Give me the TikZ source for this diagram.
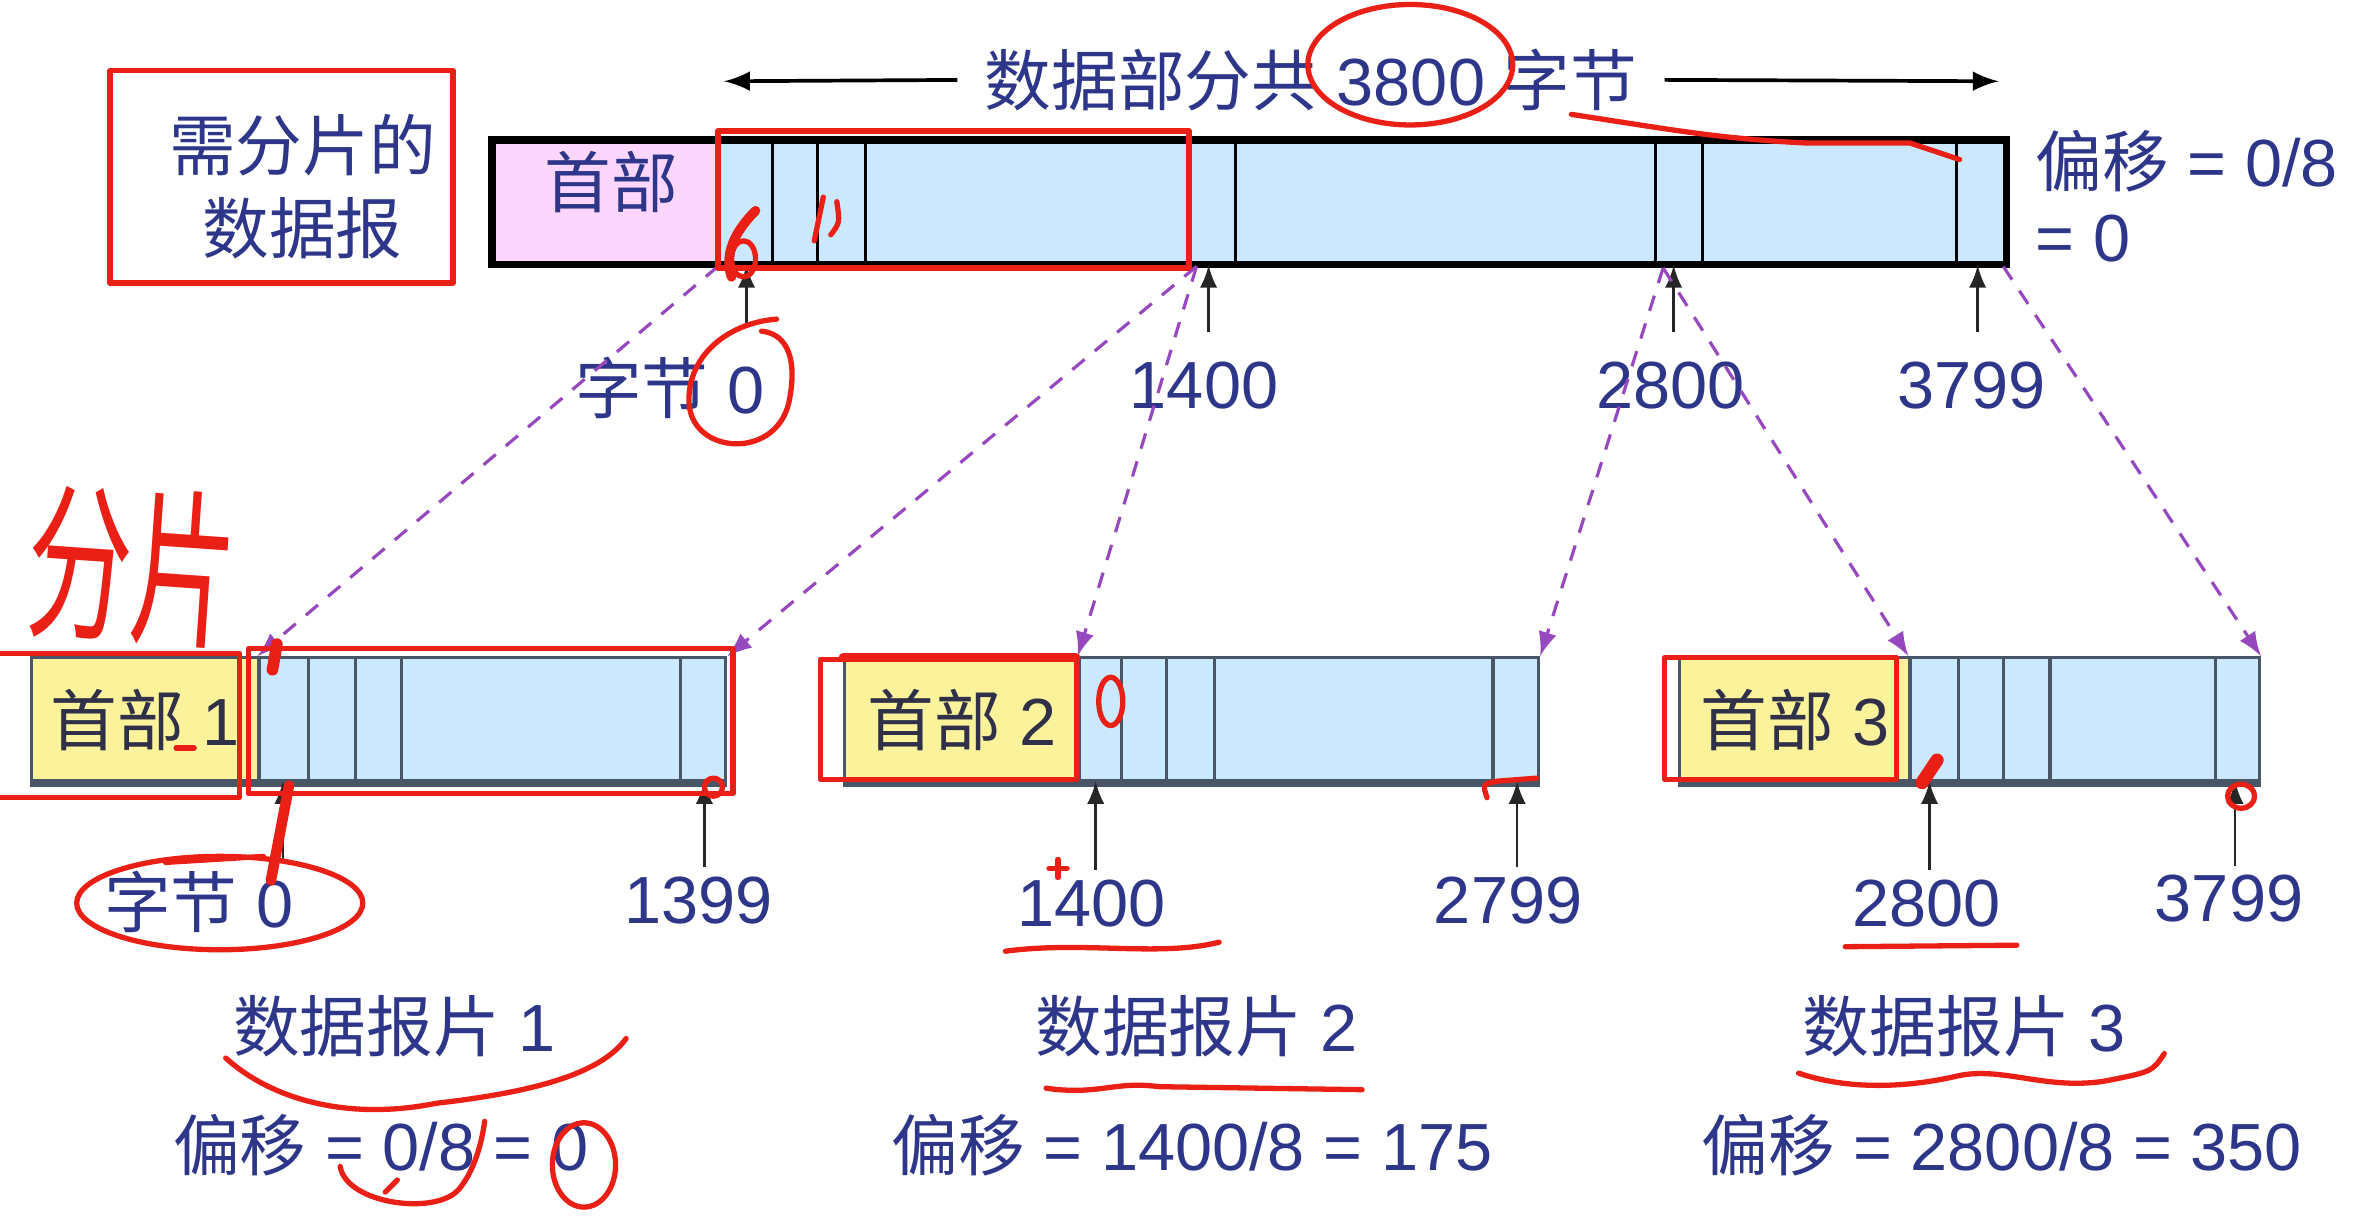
\documentclass[tikz,border=0pt]{standalone}
\usepackage{fontspec}
\setmainfont{Liberation Sans}
\newfontfamily\cjk{Noto Sans CJK SC}
\usepackage{tikz}
\usetikzlibrary{arrows}
\definecolor{txtblue}{RGB}{46,54,138}
\definecolor{hdrtext}{RGB}{48,48,72}
\definecolor{hdrpink}{RGB}{252,214,252}
\definecolor{databl}{RGB}{204,232,252}
\definecolor{hdryel}{RGB}{251,243,156}
\definecolor{fragline}{RGB}{72,86,102}
\definecolor{dpurple}{RGB}{150,72,190}
\definecolor{pen}{RGB}{234,32,22}
\newcommand{\sz}{\fontsize{12.6}{15.6}\selectfont}

\begin{document}
\begin{tikzpicture}[x=0.01cm,y=-0.01cm,
  lbl/.style={text=txtblue,inner sep=0pt,font=\sz},
  cn/.style={lbl,font=\cjk\sz},
  hdrbox/.style={draw=black,line width=0.5pt,anchor=north west,inner sep=0pt,minimum height=0.81cm},
  fragbox/.style={draw=fragline,line width=0.6pt,anchor=north west,inner sep=0pt,minimum height=0.82cm,text=hdrtext,font=\sz},
  cell/.style={black,line width=0.6pt},
  fcell/.style={fragline,line width=0.6pt},
  fshade/.style={fragline,line width=1.6pt},
  tick/.style={-latex,black!85,line width=0.5pt,shorten <=5.5pt},
  ftick/.style={-latex,black!85,line width=0.5pt,shorten <=1.5pt},
  dimarr/.style={-latex,black,line width=0.7pt,shorten <=5pt},
  dline/.style={-latex,dpurple,line width=0.6pt,dash pattern=on 3pt off 2.5pt},
  pen/.style={draw=pen,line width=1pt,line cap=round,line join=round}]
\useasboundingbox (0,0) rectangle (1568,809);

\node[lbl] (dimtxt) at (871,53) {{\cjk 数据部分共} 3800 {\cjk 字节}};
\coordinate (diml) at (481,54);
\coordinate (dimr) at (1328,54);
\draw[dimarr] (dimtxt.west) -- (diml);
\draw[dimarr] (dimtxt.east) -- (dimr);

\node[cn,align=center] (title) at (201,124) {需分片的\\数据报};

\node[hdrbox,fill=hdrpink,minimum width=1.5cm] (h0) at (327,93) {};
\node[hdrbox,fill=databl,minimum width=8.54cm] (d0) at (477,93) {};
\node[cn] (h0txt) at (406,121) {首部};
\foreach \x in {513,543,575,821,1100,1131,1300}
  \draw[cell] (\x,93) -- (\x,174);
\draw[line width=1.4pt] (h0.north west) rectangle (d0.south east);

\node[lbl,anchor=north west,align=left,font=\fontsize{12.6}{14.2}\selectfont] (off0) at (1352,86) {{\cjk 偏移} = 0/8\\= 0};

\coordinate (t0) at (496,176);
\coordinate (t1400) at (803,176);
\coordinate (t2800) at (1112,176);
\coordinate (t3799) at (1314,176);
\node[lbl] (l0) at (445,258) {{\cjk 字节} 0};
\node[lbl] (l1400) at (800,256) {1400};
\node[lbl] (l2800) at (1110,256) {2800};
\node[lbl] (l3799) at (1310,256) {3799};
\draw[tick] (t0 |- l0.north) -- (t0);
\draw[tick] (t1400 |- l1400.north) -- (t1400);
\draw[tick] (t2800 |- l2800.north) -- (t2800);
\draw[tick] (t3799 |- l3799.north) -- (t3799);

\node[fragbox,fill=hdryel,minimum width=1.51cm] (fh1) at (20,436) {{\cjk 首部} 1};
\node[fragbox,fill=databl,minimum width=3.10cm] (fd1) at (171,436) {};
\node[fragbox,fill=hdryel,minimum width=1.56cm] (fh2) at (560,436) {{\cjk 首部} 2};
\node[fragbox,fill=databl,minimum width=3.05cm] (fd2) at (716,436) {};
\node[fragbox,fill=hdryel,minimum width=1.53cm] (fh3) at (1115,436) {{\cjk 首部} 3};
\node[fragbox,fill=databl,minimum width=2.32cm] (fd3) at (1268,436) {};
\foreach \x in {205,236,267,452,745,775,807,992,1301,1331,1362,1472}
  \draw[fcell] (\x,436) -- (\x,518);
\draw[fshade] (fh1.south west) -- (fd1.south east);
\draw[fshade] (fh2.south west) -- (fd2.south east);
\draw[fshade] (fh3.south west) -- (fd3.south east);

\coordinate (s0) at (477,177);
\coordinate (s1400) at (795,177);
\coordinate (s2800) at (1105,178);
\coordinate (s3800) at (1331,177);
\draw[dline] (s0) -- (fd1.north west);
\draw[dline] (s1400) -- (fd1.north east);
\draw[dline] (s1400) -- (fd2.north west);
\draw[dline] (s2800) -- (fd2.north east);
\draw[dline] (s2800) -- (fd3.north west);
\draw[dline] (s3800) -- (fd3.north east);

\coordinate (b0) at (188,519);
\coordinate (b1399) at (468,519);
\coordinate (b1400) at (728,519);
\coordinate (b2799) at (1008,519);
\coordinate (b2800) at (1282,519);
\coordinate (b3799) at (1485,519);
\node[lbl] (fl0) at (132,599) {{\cjk 字节} 0};
\node[lbl] (fl1399) at (464,598) {1399};
\node[lbl] (fl1400) at (725,600) {1400};
\node[lbl] (fl2799) at (1002,598) {2799};
\node[lbl] (fl2800) at (1280,600) {2800};
\node[lbl] (fl3799) at (1481,597) {3799};
\draw[ftick] (b0 |- fl0.north) -- (b0);
\draw[ftick] (b1399 |- fl1399.north) -- (b1399);
\draw[ftick] (b1400 |- fl1400.north) -- (b1400);
\draw[ftick] (b2799 |- fl2799.north) -- (b2799);
\draw[ftick] (b2800 |- fl2800.north) -- (b2800);
\draw[ftick] (b3799 |- fl3799.north) -- (b3799);

\node[lbl] (name1) at (262,682) {{\cjk 数据报片} 1};
\node[lbl] (name2) at (795,682) {{\cjk 数据报片} 2};
\node[lbl] (name3) at (1305,682) {{\cjk 数据报片} 3};
\node[lbl] (off1) at (253,761) {{\cjk 偏移} = 0/8 = 0};
\node[lbl] (off2) at (792,761) {{\cjk 偏移} = 1400/8 = 175};
\node[lbl] (off3) at (1330,761) {{\cjk 偏移} = 2800/8 = 350};

\draw[pen] (73,47) rectangle (301,188);
\draw[pen] (477,87) rectangle (790,178);
\draw[pen] (-3,434) rectangle (159,530);
\draw[pen] (165,431) rectangle (487,527);
\draw[pen] (545,438) rectangle (715,518);
\draw[pen,line width=1.6pt] (560,437) -- (715,437);
\draw[pen] (1106,437) rectangle (1260,518);
\draw[pen] (937,43) ellipse [x radius=0.68cm,y radius=0.40cm];
\draw[pen] (1044,76) .. controls (1110,86) and (1140,92) .. (1200,95) -- (1269,95) -- (1302,106);
\draw[pen] (516,212) .. controls (480,215) and (455,240) .. (458,270) .. controls (462,302) and (515,305) .. (524,268) .. controls (530,240) and (524,222) .. (506,220);
\draw[pen,line width=1.8pt] (486,184) .. controls (480,166) and (492,150) .. (502,140);
\draw[pen] (494,172) ellipse [x radius=0.08cm,y radius=0.12cm];
\draw[pen] (541,160) -- (547,131);
\draw[pen] (552,156) .. controls (558,148) .. (556,134);
\draw[pen] (146,600) ellipse [x radius=0.95cm,y radius=0.31cm];
\draw[pen] (110,573) -- (175,569);
\draw[pen,line width=2.2pt] (184,428) -- (181,445);
\draw[pen,line width=2pt] (192,522) -- (180,585);
\draw[pen] (474,523) circle [radius=0.06cm];
\draw[pen] (117,497) -- (129,497);
\draw[pen] (738,466) ellipse [x radius=0.08cm,y radius=0.16cm];
\draw[pen] (1021,517) -- (995,519) .. controls (985,521) .. (988,530);
\draw[pen,line width=2.5pt] (1277,520) -- (1287,505);
\draw[pen] (1489,529) ellipse [x radius=0.09cm,y radius=0.08cm];
\draw[pen] (697,577) -- (709,577);
\draw[pen] (703,571) -- (703,583);
\draw[pen] (668,632) .. controls (720,625) and (770,636) .. (810,626);
\draw[pen] (1226,629) -- (1340,628);
\draw[pen] (150,703) .. controls (180,730) and (230,745) .. (290,733) .. controls (360,725) and (400,712) .. (416,690);
\draw[pen] (695,723) .. controls (730,728) and (740,718) .. (770,722) -- (905,724);
\draw[pen] (1195,713) .. controls (1230,725) and (1270,722) .. (1300,715) .. controls (1330,708) and (1360,725) .. (1400,718) .. controls (1430,712) .. (1438,700);
\draw[pen] (226,775) .. controls (230,800) and (290,808) .. (305,790) .. controls (315,778) and (320,760) .. (322,745);
\draw[pen] (256,792) -- (264,784);
\draw[pen] (388,774) ellipse [x radius=0.21cm,y radius=0.28cm];
\node[text=pen,inner sep=0pt,font=\cjk\fontsize{32}{32}\selectfont,rotate=-4] (hand) at (88,376) {\scalebox{0.62}[1]{分片}};
\end{tikzpicture}
\end{document}
